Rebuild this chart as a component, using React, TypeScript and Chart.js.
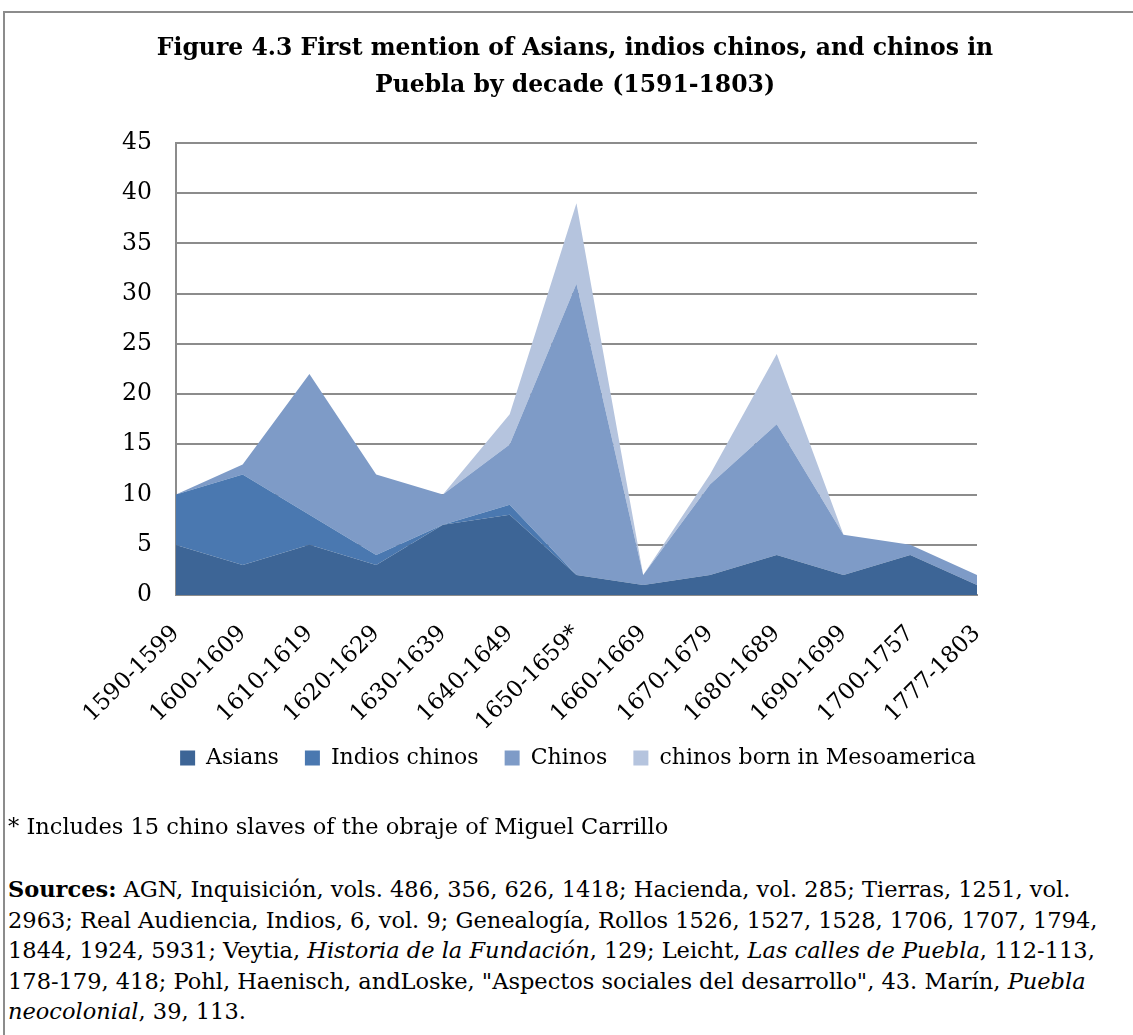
import React, { useEffect, useRef } from "react";
import { Chart, registerables } from "chart.js";

Chart.register(...registerables);

const decades = [
  "1590-1599",
  "1600-1609",
  "1610-1619",
  "1620-1629",
  "1630-1639",
  "1640-1649",
  "1650-1659*",
  "1660-1669",
  "1670-1679",
  "1680-1689",
  "1690-1699",
  "1700-1757",
  "1777-1803",
];

const asians = [5, 3, 5, 3, 7, 8, 2, 1, 2, 4, 2, 4, 1];
const indiosChinos = [5, 9, 3, 1, 0, 1, 0, 0, 0, 0, 0, 0, 0];
const chinos = [0, 1, 14, 8, 3, 6, 29, 1, 9, 13, 4, 1, 1];
const chinosMesoamerica = [0, 0, 0, 0, 0, 3, 8, 0, 1, 7, 0, 0, 0];

const yTicks = [0, 5, 10, 15, 20, 25, 30, 35, 40, 45];

const FONT = "'DejaVu Serif', 'Liberation Serif', serif";

// Place the legend row at a fixed canvas position instead of the padded layout box.
const LEGEND_CENTER_X = 573;
const LEGEND_TOP = 708;
const placeLegend = {
  id: "placeLegend",
  afterLayout(chart: any) {
    const lg = chart.legend;
    if (!lg) return;
    const dx = LEGEND_CENTER_X - (lg.left + lg.right) / 2;
    const dy = LEGEND_TOP - lg.top;
    lg.left += dx;
    lg.right += dx;
    lg.top += dy;
    lg.bottom += dy;
    if (lg.legendHitBoxes)
      lg.legendHitBoxes.forEach((b: any) => {
        b.left += dx;
        b.top += dy;
      });
  },
};

export default function App() {
  const canvasRef = useRef<HTMLCanvasElement | null>(null);

  useEffect(() => {
    const canvas = canvasRef.current;
    if (!canvas) return;
    const series = [
      { label: "Asians", data: asians, color: "#3D6596" },
      { label: "Indios chinos", data: indiosChinos, color: "#4A78B0" },
      { label: "Chinos", data: chinos, color: "#7E9BC7" },
      { label: "chinos born in Mesoamerica", data: chinosMesoamerica, color: "#B5C4DE" },
    ];
    const chart = new Chart(canvas, {
      type: "line",
      data: {
        labels: decades,
        datasets: series.map((s, i) => ({
          label: s.label,
          data: s.data,
          backgroundColor: s.color,
          borderColor: s.color,
          borderWidth: 0,
          pointRadius: 0,
          fill: i === 0 ? "origin" : "-1",
          tension: 0,
        })),
      },
      plugins: [placeLegend],
      options: {
        responsive: false,
        animation: false,
        layout: { padding: { top: 130, right: 156, bottom: 8, left: 93 } },
        plugins: {
          title: { display: false },
          legend: {
            position: "bottom",
            labels: {
              color: "#000",
              font: { family: FONT, size: 22 },
              boxWidth: 15,
              boxHeight: 15,
              padding: 26,
            },
          },
          tooltip: { enabled: false },
        },
        scales: {
          x: {
            offset: false,
            grid: { display: false, drawTicks: false },
            border: { display: true, color: "#8C8C8C", width: 2 },
            ticks: {
              color: "#000",
              font: { family: FONT, size: 23 },
              minRotation: 45,
              maxRotation: 45,
              padding: 25,
              autoSkip: false,
            },
          },
          y: {
            stacked: true,
            min: 0,
            max: 45,
            afterBuildTicks: (axis: any) => {
              axis.ticks = yTicks.map((v) => ({ value: v }));
            },
            grid: { color: "#8C8C8C", lineWidth: 2, drawTicks: false },
            border: { display: true, color: "#8C8C8C", width: 2 },
            ticks: {
              color: "#000",
              font: { family: FONT, size: 23.5 },
              padding: 24,
            },
          },
        },
      },
    });
    return () => chart.destroy();
  }, []);

  const textStyle: React.CSSProperties = {
    position: "absolute",
    left: 8,
    fontFamily: FONT,
    fontSize: 22.5,
    color: "#000",
    whiteSpace: "nowrap",
  };

  return (
    <div
      style={{
        position: "absolute",
        left: 0,
        top: 0,
        width: 1133,
        height: 1035,
        background: "#fff",
        overflow: "hidden",
      }}
    >
      <div
        style={{
          position: "absolute",
          left: 3,
          top: 11,
          width: 1140,
          height: 1040,
          borderTop: "2px solid #8C8C8C",
          borderLeft: "2px solid #8C8C8C",
        }}
      />
      <canvas
        ref={canvasRef}
        width={1128}
        height={814}
        style={{ position: "absolute", left: 5, top: 13 }}
      />
      <div
        style={{
          position: "absolute",
          left: 0,
          top: 29,
          width: 1150,
          textAlign: "center",
          fontFamily: FONT,
          fontWeight: "bold",
          fontSize: 23.5,
          lineHeight: "37px",
          color: "#000",
        }}
      >
        Figure 4.3 First mention of Asians, indios chinos, and chinos in
        <br />
        Puebla by decade (1591-1803)
      </div>
      <div style={{ ...textStyle, top: 811, lineHeight: "30px" }}>
        * Includes 15 chino slaves of the obraje of Miguel Carrillo
      </div>
      <div style={{ ...textStyle, top: 874, lineHeight: "30.5px" }}>
        <b>Sources:</b> AGN, Inquisición, vols. 486, 356, 626, 1418; Hacienda, vol. 285; Tierras, 1251, vol.
        <br />
        2963; Real Audiencia, Indios, 6, vol. 9; Genealogía, Rollos 1526, 1527, 1528, 1706, 1707, 1794,
        <br />
        1844, 1924, 5931; Veytia, <i>Historia de la Fundación</i>, 129; Leicht, <i>Las calles de Puebla</i>, 112-113,
        <br />
        178-179, 418; Pohl, Haenisch, andLoske, "Aspectos sociales del desarrollo", 43. Marín, <i>Puebla</i>
        <br />
        <i>neocolonial</i>, 39, 113.
      </div>
    </div>
  );
}
